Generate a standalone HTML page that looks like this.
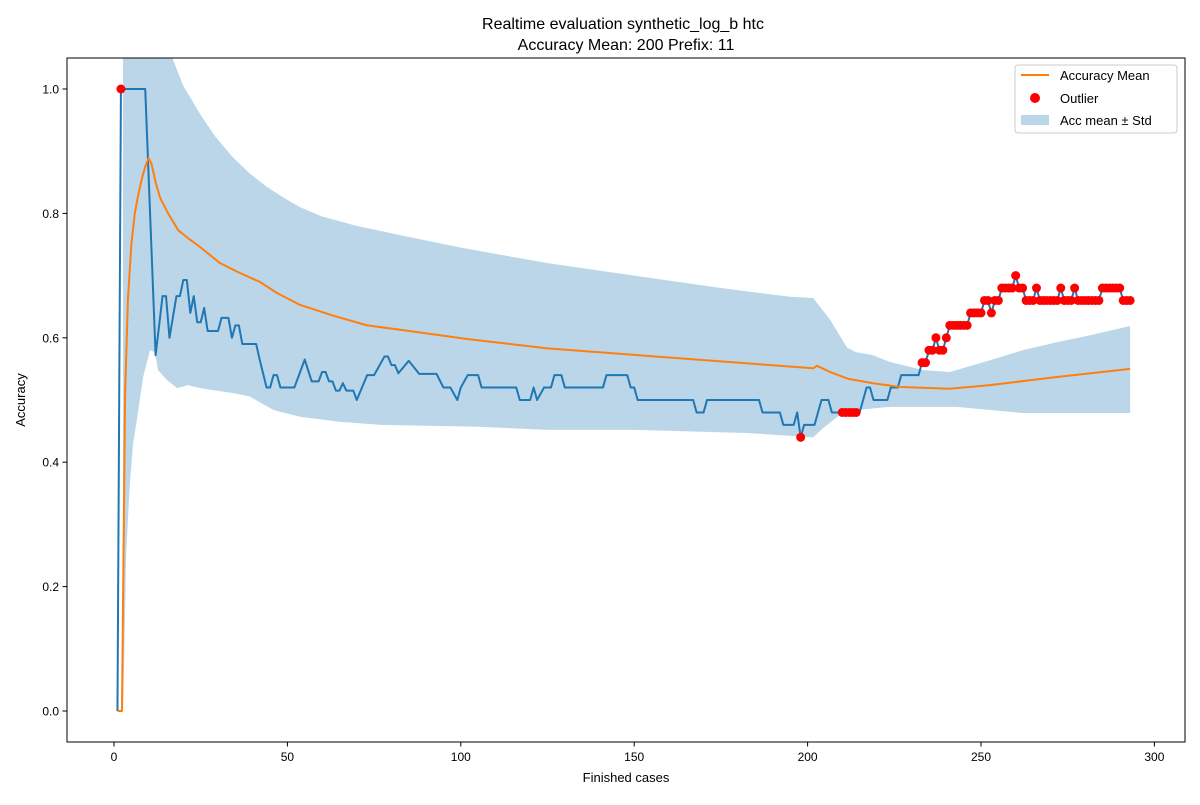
<!DOCTYPE html>
<html><head><meta charset="utf-8"><style>
body{margin:0;background:#fff;}
svg{font-family:"Liberation Sans","DejaVu Sans",sans-serif;}
</style></head><body>
<svg id="chart" width="1200" height="800" viewBox="0 0 1200 800">
<defs><clipPath id="clip"><rect x="67" y="58" width="1118" height="684"/></clipPath></defs>
<text x="623" y="29" text-anchor="middle" font-size="16">Realtime evaluation synthetic_log_b htc</text>
<text x="626" y="50" text-anchor="middle" font-size="16">Accuracy Mean: 200 Prefix: 11</text>
<g id="plot" clip-path="url(#clip)"></g>
<g id="axes"></g>
<text x="626" y="782" text-anchor="middle" font-size="13">Finished cases</text>
<text transform="translate(25,400) rotate(-90)" text-anchor="middle" font-size="13">Accuracy</text>
<g>
<rect x="1015" y="65" width="162" height="68" rx="3" fill="#fff" fill-opacity="0.8" stroke="#ccc"/>
<line x1="1021" y1="75" x2="1049" y2="75" stroke="#ff7f0e" stroke-width="2"/>
<text x="1060" y="80" font-size="13">Accuracy Mean</text>
<circle cx="1035" cy="98" r="5" fill="red"/>
<text x="1060" y="103" font-size="13">Outlier</text>
<rect x="1021" y="115" width="28" height="10" fill="#1f77b4" fill-opacity="0.3"/>
<text x="1060" y="125" font-size="13">Acc mean ± Std</text>
</g>
</svg>
<script>
const xTicks=[0,50,100,150,200,250,300];
const yTicks=[0.0,0.2,0.4,0.6,0.8,1.0];
const accX=[1,2,9,12,14,15,16,18,19,20,21,22,23,24,25,26,27,30,31,33,34,35,36,37,41,42,44,45,46,47,48,52,55,57,59,60,61,62,63,64,65,66,67,69,70,73,75,78,79,80,81,82,85,88,93,95,97,99,100,102,105,106,116,117,120,121,122,124,126,127,129,130,141,142,148,149,150,151,167,168,170,171,186,187,192,193,196,197,198,199,201,202,204,206,207,208,209,210,211,212,213,214,215,216,217,218,219,220,221,222,223,224,225,226,227,228,229,230,231,232,233,234,235,236,237,238,239,240,241,242,243,244,245,246,247,248,249,250,251,252,253,254,255,256,257,258,259,260,261,262,263,264,265,266,267,268,269,270,271,272,273,274,275,276,277,278,279,280,281,282,283,284,285,286,287,288,289,290,291,292,293];
const accY=[0,1,1,0.572,0.667,0.667,0.6,0.667,0.667,0.693,0.693,0.64,0.667,0.625,0.625,0.648,0.611,0.611,0.632,0.632,0.6,0.62,0.62,0.59,0.59,0.565,0.52,0.52,0.54,0.54,0.52,0.52,0.565,0.53,0.53,0.545,0.545,0.53,0.53,0.515,0.515,0.527,0.515,0.515,0.5,0.54,0.54,0.57,0.57,0.556,0.556,0.543,0.563,0.542,0.542,0.52,0.52,0.5,0.52,0.54,0.54,0.52,0.52,0.5,0.5,0.52,0.5,0.52,0.52,0.54,0.54,0.52,0.52,0.54,0.54,0.52,0.52,0.5,0.5,0.48,0.48,0.5,0.5,0.48,0.48,0.46,0.46,0.48,0.44,0.46,0.46,0.46,0.5,0.5,0.48,0.48,0.48,0.48,0.48,0.48,0.48,0.48,0.48,0.50,0.52,0.52,0.50,0.50,0.50,0.50,0.50,0.52,0.52,0.52,0.54,0.54,0.54,0.54,0.54,0.54,0.56,0.56,0.58,0.58,0.60,0.58,0.58,0.60,0.62,0.62,0.62,0.62,0.62,0.62,0.64,0.64,0.64,0.64,0.66,0.66,0.64,0.66,0.66,0.68,0.68,0.68,0.68,0.70,0.68,0.68,0.66,0.66,0.66,0.68,0.66,0.66,0.66,0.66,0.66,0.66,0.68,0.66,0.66,0.66,0.68,0.66,0.66,0.66,0.66,0.66,0.66,0.66,0.68,0.68,0.68,0.68,0.68,0.68,0.66,0.66,0.66];
const outlierX=[2,198,210,211,212,213,214,233,234,235,236,237,238,239,240,241,242,243,244,245,246,247,248,249,250,251,252,253,254,255,256,257,258,259,260,261,262,263,264,265,266,267,268,269,270,271,272,273,274,275,276,277,278,279,280,281,282,283,284,285,286,287,288,289,290,291,292,293];
const meanX=[1,2.3,3.2,4,5,6,7,8,9,10,10.8,12,13.3,15.6,18.5,21.4,24.8,30.6,36,42,47,53.6,63,73,82.5,101.8,125,153.7,201.6,202.7,206.5,211.7,218.9,226.6,241,252.6,271.9,293];
const meanY=[0,0,0.51,0.66,0.75,0.80,0.83,0.855,0.875,0.889,0.88,0.85,0.825,0.80,0.773,0.76,0.746,0.72,0.705,0.69,0.672,0.653,0.636,0.62,0.613,0.598,0.583,0.571,0.551,0.555,0.545,0.534,0.527,0.521,0.518,0.524,0.537,0.55];
const upX=[2.6,3,10,17,20,24.8,29,34.3,39,44,49,53.6,60,70,82.5,100,125,150,175,195,201.6,206.5,211.4,214,218.9,223.8,233.4,241,252.6,262,272,281.5,293];
const upY=[1.06,1.6,1.2,1.047,1.005,0.96,0.925,0.89,0.865,0.843,0.825,0.81,0.795,0.78,0.765,0.745,0.72,0.70,0.68,0.666,0.664,0.629,0.584,0.577,0.572,0.561,0.548,0.545,0.564,0.58,0.593,0.604,0.619];
const loX=[2.6,3,3.5,4.5,5.5,6.6,8.4,10.4,11.8,12.7,15.3,18.2,21.4,24.8,34.3,39,46,53.6,65,77,105,125,150,182.5,201.6,204.5,209.3,214,223.8,243,262,293];
const loY=[0,0.1,0.25,0.36,0.43,0.468,0.537,0.58,0.577,0.548,0.532,0.519,0.524,0.519,0.511,0.506,0.484,0.473,0.465,0.46,0.457,0.452,0.452,0.447,0.44,0.455,0.476,0.484,0.489,0.489,0.479,0.479];

const NS="http://www.w3.org/2000/svg";
const X=v=>114+v*3.468;
const Y=v=>711-v*622;
const plot=document.getElementById('plot'), axes=document.getElementById('axes');
function mk(tag,attrs,parent){const e=document.createElementNS(NS,tag);for(const k in attrs)e.setAttribute(k,attrs[k]);parent.appendChild(e);return e;}
const yAt=x=>accY[accX.indexOf(x)];

let d='M'+upX.map((x,i)=>X(x)+','+Y(upY[i])).join('L');
for(let i=loX.length-1;i>=0;i--)d+='L'+X(loX[i])+','+Y(loY[i]);
const band=mk('path',{d:d+'Z',fill:'#1f77b4','fill-opacity':0.3},plot);


const acc=mk('polyline',{points:accX.map((x,i)=>X(x)+','+Y(accY[i])).join(' '),fill:'none',stroke:'#1f77b4','stroke-width':2,'stroke-linejoin':'round'},plot);


const mean=mk('polyline',{points:meanX.map((x,i)=>X(x)+','+Y(meanY[i])).join(' '),fill:'none',stroke:'#ff7f0e','stroke-width':2,'stroke-linejoin':'round'},plot);


outlierX.forEach(x=>{const v=yAt(x);if(v===undefined)return;
 const c=mk('circle',{cx:X(x),cy:Y(v),r:4.5,fill:'red'},plot);
 
 });
const fr=mk('rect',{x:67,y:58,width:1118,height:684,fill:'none',stroke:'#000','stroke-width':1},axes);


xTicks.forEach(t=>{mk('line',{x1:X(t),x2:X(t),y1:742,y2:746.5,stroke:'#000'},axes);
 const tx=mk('text',{x:X(t),y:761,'text-anchor':'middle','font-size':12},axes);tx.textContent=t;
 
 });
yTicks.forEach(t=>{mk('line',{x1:62.5,x2:67,y1:Y(t),y2:Y(t),stroke:'#000'},axes);
 const tx=mk('text',{x:59,y:Y(t)+4.5,'text-anchor':'end','font-size':12},axes);tx.textContent=t.toFixed(1);
 
 });
</script>
</body></html>
